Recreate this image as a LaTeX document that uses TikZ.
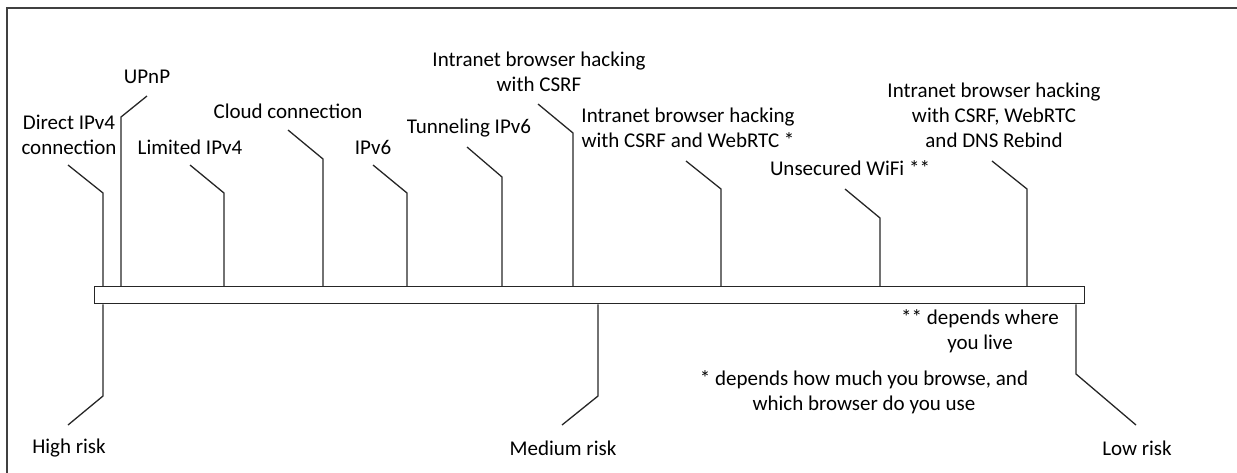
\documentclass[tikz,border=0pt]{standalone}
\usepackage{fontspec}
\setmainfont{Carlito}
\begin{document}
\begin{tikzpicture}[x=1pt,y=-1pt,
  lbl/.style={font=\fontsize{21}{25}\selectfont, align=center, inner sep=0pt, text=black},
  conn/.style={line width=1.3pt, draw=black!85},
  framestyle/.style={line width=2pt, draw=black!75}]
\useasboundingbox (0,0) rectangle (1237,472);
\draw[framestyle] (1260,8) -- (7,8) -- (7,490);
\node[draw=black!85, line width=1.4pt, minimum width=990pt, minimum height=17pt, inner sep=0pt, anchor=north west] (bar) at (94,286) {};

% top labels
\node[lbl] (direct) at (69,134.5) {Direct IPv4\\connection};
\node[lbl] (upnp) at (147,77) {UPnP};
\node[lbl] (limited) at (190,147) {Limited IPv4};
\node[lbl] (cloud) at (288,111) {Cloud connection};
\node[lbl] (ipv6) at (373,147) {IPv6};
\node[lbl] (tunnel) at (469,128) {Tunneling IPv6};
\node[lbl] (csrf) at (539,71.5) {Intranet browser hacking\\with CSRF};
\node[lbl] (webrtc) at (688,128) {Intranet browser hacking\\with CSRF and WebRTC *};
\node[lbl] (wifi) at (850,168) {Unsecured WiFi **};
\node[lbl] (dns) at (994,115) {Intranet browser hacking\\with CSRF, WebRTC\\and DNS Rebind};

% bottom labels
\node[lbl] (high) at (69,448) {High risk};
\node[lbl] (medium) at (563,448) {Medium risk};
\node[lbl] (low) at (1137,448) {Low risk};
\node[lbl] (note2) at (980,331.5) {** depends where\\you live};
\node[lbl] (note1) at (864,392) {* depends how much you browse, and\\which browser do you use};

% connector points
\coordinate (directA) at (68,165);  \coordinate (directB) at (103,193);
\coordinate (upnpA) at (147,96);    \coordinate (upnpB) at (121,117);
\coordinate (limA) at (190,165);    \coordinate (limB) at (224,193);
\coordinate (cloudA) at (288,130);  \coordinate (cloudB) at (323,159);
\coordinate (ipvA) at (373,165);    \coordinate (ipvB) at (407,193);
\coordinate (tunA) at (467,147);    \coordinate (tunB) at (502,177);
\coordinate (csrfA) at (538,104);   \coordinate (csrfB) at (573,133);
\coordinate (webA) at (686,161);    \coordinate (webB) at (721,189);
\coordinate (wifiA) at (845,189);   \coordinate (wifiB) at (880,218);
\coordinate (dnsA) at (992,161);    \coordinate (dnsB) at (1027,189);

\foreach \n in {direct,upnp,lim,cloud,ipv,tun,csrf,web,wifi,dns}
  \draw[conn] (\n A) -- (\n B) -- (\n B |- bar.north);

\coordinate (highB) at (103,396);  \coordinate (highA) at (68,425);
\coordinate (medB) at (598,396);   \coordinate (medA) at (562,425);
\coordinate (lowB) at (1076,374);  \coordinate (lowA) at (1136,425);

\foreach \n in {high,med,low}
  \draw[conn] (\n B |- bar.south) -- (\n B) -- (\n A);
\end{tikzpicture}
\end{document}
